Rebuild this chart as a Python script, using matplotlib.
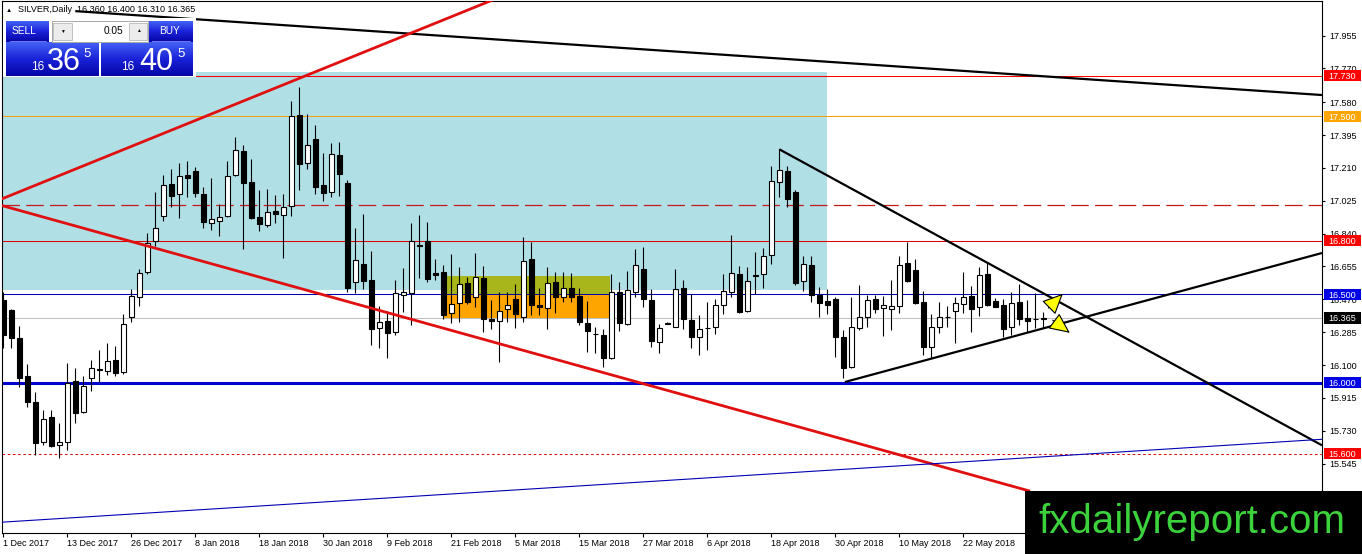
import matplotlib
matplotlib.use('Agg')
import matplotlib.pyplot as plt
import matplotlib.transforms as mtransforms
from matplotlib.patches import Rectangle
from matplotlib.colors import LinearSegmentedColormap
import numpy as np

plt.rcParams['font.family'] = ['Liberation Sans', 'DejaVu Sans']

# daily OHLC, SILVER, 1 Dec 2017 .. 31 May 2018
opens = [
    16.466, 16.410, 16.250, 16.038, 15.890, 15.668, 15.806, 15.651, 15.668, 16.010,
    15.837, 16.029, 16.072, 16.068, 16.128, 16.062, 16.372, 16.485, 16.625, 16.800,
    16.941, 17.119, 17.061, 17.170, 17.194, 17.063, 16.901, 16.912, 16.939, 17.171,
    17.305, 17.129, 16.935, 16.887, 16.967, 16.943, 16.994, 17.508, 17.236, 17.371,
    17.112, 17.072, 17.281, 17.123, 16.569, 16.669, 16.579, 16.310, 16.348, 16.288,
    16.492, 16.504, 16.776, 16.800, 16.616, 16.624, 16.391, 16.447, 16.560, 16.485,
    16.588, 16.359, 16.346, 16.414, 16.470, 16.369, 16.695, 16.436, 16.419, 16.566,
    16.481, 16.532, 16.489, 16.335, 16.273, 16.267, 16.138, 16.509, 16.329, 16.509,
    16.639, 16.466, 16.231, 16.333, 16.316, 16.532, 16.355, 16.256, 16.307, 16.316,
    16.438, 16.513, 16.611, 16.406, 16.603, 16.611, 16.719, 17.129, 17.192, 17.076,
    16.573, 16.663, 16.494, 16.460, 16.472, 16.259, 16.090, 16.310, 16.369, 16.470,
    16.423, 16.417, 16.434, 16.673, 16.635, 16.456, 16.200, 16.316, 16.369, 16.402,
    16.443, 16.489, 16.425, 16.612, 16.462, 16.438, 16.312, 16.456, 16.363, 16.357,
    16.360]
highs = [
    16.511, 16.415, 16.320, 16.104, 15.946, 15.847, 15.847, 15.772, 16.110, 16.081,
    16.038, 16.128, 16.184, 16.226, 16.207, 16.385, 16.526, 16.641, 16.842, 17.076,
    17.170, 17.202, 17.236, 17.250, 17.213, 17.101, 17.151, 17.006, 17.249, 17.382,
    17.339, 17.260, 17.085, 17.091, 17.057, 17.063, 17.586, 17.667, 17.512, 17.451,
    17.295, 17.352, 17.357, 17.142, 16.870, 16.950, 16.744, 16.432, 16.406, 16.579,
    16.644, 16.898, 16.945, 16.907, 16.697, 16.663, 16.725, 16.650, 16.597, 16.732,
    16.657, 16.466, 16.509, 16.509, 16.556, 16.822, 16.791, 16.532, 16.650, 16.625,
    16.622, 16.620, 16.532, 16.460, 16.312, 16.303, 16.612, 16.569, 16.629, 16.753,
    16.763, 16.526, 16.329, 16.340, 16.639, 16.579, 16.500, 16.382, 16.453, 16.470,
    16.612, 16.832, 16.657, 16.650, 16.735, 16.757, 17.222, 17.314, 17.220, 17.085,
    16.714, 16.714, 16.541, 16.526, 16.485, 16.297, 16.485, 16.550, 16.494, 16.494,
    16.489, 16.579, 16.714, 16.791, 16.695, 16.517, 16.387, 16.456, 16.432, 16.485,
    16.625, 16.545, 16.654, 16.673, 16.476, 16.470, 16.513, 16.556, 16.466, 16.507,
    16.400]
lows = [
    16.196, 16.197, 15.978, 15.865, 15.593, 15.650, 15.640, 15.575, 15.621, 15.775,
    15.830, 15.955, 16.003, 16.044, 16.038, 16.052, 16.344, 16.434, 16.612, 16.770,
    16.912, 16.988, 16.929, 17.044, 17.044, 16.870, 16.860, 16.828, 16.935, 17.165,
    16.751, 16.920, 16.856, 16.880, 16.901, 16.701, 16.941, 17.085, 17.202, 17.061,
    17.025, 17.048, 17.053, 16.513, 16.507, 16.527, 16.213, 16.197, 16.138, 16.269,
    16.400, 16.325, 16.588, 16.569, 16.579, 16.357, 16.335, 16.344, 16.443, 16.428,
    16.288, 16.301, 16.119, 16.344, 16.310, 16.344, 16.382, 16.382, 16.301, 16.391,
    16.456, 16.456, 16.325, 16.175, 16.166, 16.087, 16.135, 16.293, 16.325, 16.481,
    16.428, 16.203, 16.169, 16.330, 16.312, 16.303, 16.194, 16.156, 16.185, 16.273,
    16.385, 16.485, 16.395, 16.400, 16.500, 16.535, 16.667, 17.048, 16.991, 16.549,
    16.517, 16.456, 16.372, 16.387, 16.147, 16.025, 16.083, 16.297, 16.316, 16.391,
    16.263, 16.297, 16.391, 16.570, 16.445, 16.156, 16.141, 16.279, 16.312, 16.222,
    16.391, 16.288, 16.376, 16.434, 16.425, 16.259, 16.269, 16.325, 16.288, 16.307,
    16.310]
closes = [
    16.269, 16.254, 16.025, 15.893, 15.663, 15.794, 15.646, 15.665, 15.997, 15.831,
    15.982, 16.081, 16.075, 16.123, 16.057, 16.331, 16.489, 16.620, 16.789, 16.870,
    17.113, 17.053, 17.162, 17.155, 17.067, 16.907, 16.920, 16.932, 17.166, 17.309,
    17.123, 16.926, 16.892, 16.961, 16.948, 16.990, 17.502, 17.230, 17.337, 17.104,
    17.067, 17.286, 17.174, 16.532, 16.691, 16.575, 16.304, 16.344, 16.282, 16.504,
    16.509, 16.798, 16.772, 16.584, 16.608, 16.382, 16.442, 16.554, 16.456, 16.594,
    16.361, 16.346, 16.406, 16.436, 16.385, 16.687, 16.436, 16.428, 16.560, 16.485,
    16.535, 16.485, 16.344, 16.293, 16.275, 16.141, 16.513, 16.335, 16.521, 16.661,
    16.470, 16.237, 16.307, 16.337, 16.530, 16.357, 16.256, 16.301, 16.309, 16.438,
    16.517, 16.616, 16.400, 16.575, 16.606, 16.714, 17.136, 17.198, 17.036, 16.563,
    16.667, 16.492, 16.451, 16.436, 16.259, 16.081, 16.316, 16.372, 16.466, 16.417,
    16.436, 16.432, 16.663, 16.575, 16.447, 16.203, 16.312, 16.369, 16.371, 16.447,
    16.481, 16.417, 16.607, 16.438, 16.428, 16.301, 16.447, 16.357, 16.350, 16.359,
    16.365]

date_labels = ['1 Dec 2017', '13 Dec 2017', '26 Dec 2017', '8 Jan 2018', '18 Jan 2018',
               '30 Jan 2018', '9 Feb 2018', '21 Feb 2018', '5 Mar 2018', '15 Mar 2018',
               '27 Mar 2018', '6 Apr 2018', '18 Apr 2018', '30 Apr 2018', '10 May 2018',
               '22 May 2018']
price_ticks = [17.955, 17.770, 17.580, 17.395, 17.210, 17.025, 16.840, 16.655,
               16.470, 16.285, 16.100, 15.915, 15.730, 15.545, 15.360]

# horizontal levels: price, colour, width, dash, tag colour (None = no tag)
levels = [(17.730, '#ff0000', 0.75, None, '#ff0000'),
          (17.500, '#f0a30a', 0.75, None, '#ffa500'),
          (17.000, '#c41a1a', 0.9, (14, 5), None),
          (16.800, '#e00000', 0.75, None, '#ff0000'),
          (16.500, '#0000b4', 0.75, None, '#0000e6'),
          (16.365, '#c0c0c0', 0.75, None, '#000000'),
          (16.000, '#0000d0', 2.2, None, '#0000e6'),
          (15.600, '#d01010', 0.75, (2.5, 2.5), '#ff0000')]

# zones: (bar from, bar to, price low, price high, colour)
zones = [(-5, 102.96, 16.52, 17.75, '#b0e0e6'),
         (55, 75.8, 16.50, 16.60, '#a8b61c'),
         (55, 75.8, 16.357, 16.50, '#ffa500')]

# trend lines: (bars, prices, colour, width)
trends = [([9, 164.84], [18.093, 17.6205], 'black', 1.6),
          ([-1.4, 70], [17.0135, 18.317], '#e01010', 2.0),
          ([-1.4, 128.35], [17.0135, 15.390], '#e01010', 2.0),
          ([97.0, 164.84], [17.315, 15.648], 'black', 1.6),
          ([105.2, 164.84], [16.0045, 16.731], 'black', 1.6),
          ([-0.41, 164.84], [15.2145, 15.682], '#0000b4', 0.8)]

# yellow arrows: (from bar, from price, to bar, to price)
arrows = [(130.4, 16.410, 132.7, 16.513),
          (130.9, 16.362, 133.6, 16.272)]

W, H = 1362, 554
fig = plt.figure(figsize=(W / 100, H / 100), dpi=100)
ax = fig.add_axes([2 / W, (H - 532.7) / H, 1320 / W, 531.7 / H])
ax.set_xlim(-0.1625, 164.84)
ax.set_ylim(15.156, 18.150)

for x0, x1, p0, p1, col in zones:
    ax.add_patch(Rectangle((x0, p0), x1 - x0, p1 - p0, facecolor=col, edgecolor='none', zorder=0.5))

for price, col, lw, dash, tag in levels:
    ln = ax.axhline(price, color=col, lw=lw, zorder=1)
    if dash:
        ln.set_dashes(dash)

# candles
idx = np.arange(len(opens))
o, h, l, c = map(np.array, (opens, highs, lows, closes))
ax.vlines(idx, l, h, color='black', lw=0.8, zorder=3)
ax.bar(idx, c - o, bottom=o, width=0.58, color=np.where(c >= o, 'white', 'black'),
       edgecolor='black', linewidth=0.8, zorder=3.1)

for xs, ps, col, lw in trends:
    ax.plot(xs, ps, color=col, lw=lw, zorder=4, solid_capstyle='butt')

for x0, p0, x1, p1 in arrows:
    ax.annotate('', xy=(x1, p1), xytext=(x0, p0),
                arrowprops=dict(arrowstyle='-|>,head_length=1.3,head_width=0.6',
                                fc='#ffff00', ec='black', lw=0.8), zorder=6)

# axes styling
for s in ax.spines.values():
    s.set_color('black')
    s.set_linewidth(0.8)
ax.yaxis.tick_right()
ax.set_yticks(price_ticks)
ax.set_yticklabels([f'{v:.3f}' for v in price_ticks])
ax.tick_params(axis='y', direction='out', length=2.5, width=0.8, pad=2.5, labelsize=6.5)
ax.set_xticks(np.arange(0, 8 * len(date_labels), 8))
ax.set_xticklabels(date_labels)
ax.tick_params(axis='x', direction='out', length=2.8, width=0.8, pad=1.5, labelsize=6.5)
for lbl in ax.get_xticklabels():
    lbl.set_ha('left')

# price tags on the right scale
trans = mtransforms.blended_transform_factory(ax.transAxes, ax.transData)
for price, col, lw, dash, tag in levels:
    if tag is None:
        continue
    ax.add_patch(Rectangle((1 + 1.5 / 1320, price - 0.031), 37 / 1320, 0.062, transform=trans,
                           facecolor=tag, edgecolor='none', clip_on=False, zorder=5))
    ax.text(1 + 20 / 1320, price, f'{price:.3f}', transform=trans, color='white', fontsize=6.5,
            ha='center', va='center_baseline', clip_on=False, zorder=6)

# overlay in pixel coordinates: title, trade panel, watermark
ov = fig.add_axes([0, 0, 1, 1], zorder=10)
ov.set_xlim(0, W)
ov.set_ylim(H, 0)
ov.axis('off')
ov.patch.set_alpha(0)

ov.text(6, 10.5, '▲', fontsize=4.5, va='center', color='black')
ov.text(18, 10, 'SILVER,Daily  16.360 16.400 16.310 16.365', fontsize=6.5, va='center', color='black')

ov.add_patch(Rectangle((3, 18), 193, 59, facecolor='white', edgecolor='none', zorder=1))
blue_cmap = LinearSegmentedColormap.from_list('btn', ['#4462f5', '#1a22d8', '#0606a6'])
grad = np.linspace(0, 1, 64).reshape(-1, 1)


def blue_box(x0, y0, w, hh):
    ov.imshow(grad, cmap=blue_cmap, extent=(x0, x0 + w, y0 + hh, y0), aspect='auto',
              interpolation='bilinear', zorder=2)


blue_box(6, 20.7, 43, 21)
blue_box(149, 20.7, 44, 21)
blue_box(6, 42.5, 93, 34)
blue_box(101, 42.5, 92, 34)
ov.plot([10, 46], [41.2, 41.2], color='#7f8cff', lw=0.6, zorder=3)
ov.plot([152, 190], [41.2, 41.2], color='#7f8cff', lw=0.6, zorder=3)
ov.text(23.5, 31.5, 'SELL', color='white', fontsize=7.3, ha='center', va='center', zorder=4)
ov.text(170, 31.5, 'BUY', color='white', fontsize=7.3, ha='center', va='center', zorder=4)

ov.add_patch(Rectangle((51.5, 20.7), 96.5, 21, facecolor='white', edgecolor='#a8a8a8', lw=0.7, zorder=2))
ov.add_patch(Rectangle((53, 22.5), 19, 17.5, facecolor='#ececec', edgecolor='#b8b8b8', lw=0.6, zorder=3))
ov.add_patch(Rectangle((129, 22.5), 18, 17.5, facecolor='#ececec', edgecolor='#b8b8b8', lw=0.6, zorder=3))
ov.text(62.5, 31, '▼', fontsize=3.5, ha='center', va='center', color='black', zorder=4)
ov.text(138, 31, '▲', fontsize=3.5, ha='center', va='center', color='black', zorder=4)
ov.text(123.5, 31.5, '0.05', fontsize=7.3, ha='right', va='center', color='black', zorder=4)

for x_small, x_big, x_sup, big in [(31, 47, 83, '36'), (121, 139, 177, '40')]:
    ov.text(x_small, 69.5, '16', color='white', fontsize=8.5, va='baseline', zorder=4)
    ov.text(x_big, 70, big, color='white', fontsize=22, va='baseline', zorder=4)
    ov.text(x_sup, 57, '5', color='white', fontsize=9.5, va='baseline', zorder=4)

ov.add_patch(Rectangle((1025, 491), W - 1025, H - 491, facecolor='black', edgecolor='none', zorder=5))
ov.text(1192, 533, 'fxdailyreport.com', color='#3cd23c', fontsize=29, ha='center', va='baseline', zorder=6)
ov.set_xlim(0, W)
ov.set_ylim(H, 0)

fig.savefig('out.png', dpi=100)
